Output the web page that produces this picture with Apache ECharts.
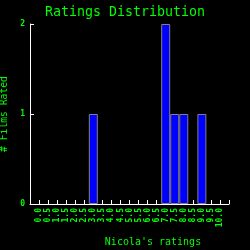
<!DOCTYPE html>
<html>
<head>
<meta charset="utf-8">
<script src="https://cdn.jsdelivr.net/npm/echarts@6/dist/echarts.min.js"></script>
<style>
html,body{margin:0;padding:0;background:#000;}
#main{width:250px;height:250px;}
</style>
</head>
<body>
<div id="main"></div>
<script>
// ratings 0.0 .. 10.0
var ratings = ['0.0','0.5','1.0','1.5','2.0','2.5','3.0','3.5','4.0','4.5','5.0','5.5','6.0','6.5','7.0','7.5','8.0','8.5','9.0','9.5','10.0'];
var filmCounts = [0,0,0,0,0,0,1,0,0,0,0,0,0,0,2,1,1,0,1,0,0];
var yTicks = [0, 1, 2];

var green = '#00ff00';
var mono = 'DejaVu Sans Mono';

// pad one empty slot on each side so the axis runs a step past 0.0 and 10.0
var axisCats = [''].concat(ratings, ['']);
var barData = [null].concat(filmCounts.map(function(v){ return v > 0 ? v : null; }), [null]);

var option = {
	backgroundColor: '#000',
	animation: false,
	title: {
		text: 'Ratings Distribution',
		left: 'center',
		top: 1,
		textStyle: {color: green, fontFamily: mono, fontSize: 13.3, fontWeight: 'normal'}
	},
	grid: {left: 30, right: 21, top: 24, bottom: 46, outerBoundsMode: 'none', containLabel: false},
	xAxis: {
		type: 'category',
		data: axisCats,
		boundaryGap: false,
		name: "Nicola's ratings",
		nameLocation: 'middle',
		nameGap: 33,
		nameTextStyle: {color: green, fontFamily: mono, fontSize: 10, padding: [0, 0, 0, 47]},
		axisLine: {lineStyle: {color: '#fff', width: 1}},
		axisTick: {inside: true, length: 4, lineStyle: {color: '#fff'}},
		axisLabel: {color: green, fontFamily: mono, fontSize: 8, fontWeight: 'bold', rotate: 90, margin: 4, interval: 0},
		splitLine: {show: false}
	},
	yAxis: {
		type: 'value',
		min: yTicks[0],
		max: yTicks[yTicks.length - 1],
		interval: 1,
		name: '# Films Rated',
		nameLocation: 'middle',
		nameGap: 15,
		nameTextStyle: {color: green, fontFamily: mono, fontSize: 9.7},
		axisLine: {show: true, lineStyle: {color: '#fff', width: 1}},
		axisTick: {show: true, inside: true, length: 4, lineStyle: {color: '#fff'}},
		axisLabel: {color: green, fontFamily: mono, fontSize: 8, fontWeight: 'bold', margin: 5},
		splitLine: {show: false}
	},
	series: [{
		type: 'bar',
		data: barData,
		barWidth: 9,
		itemStyle: {color: '#0000ff', borderColor: '#808080', borderWidth: 1}
	}]
};
echarts.init(document.getElementById('main')).setOption(option);
</script>
</body>
</html>
